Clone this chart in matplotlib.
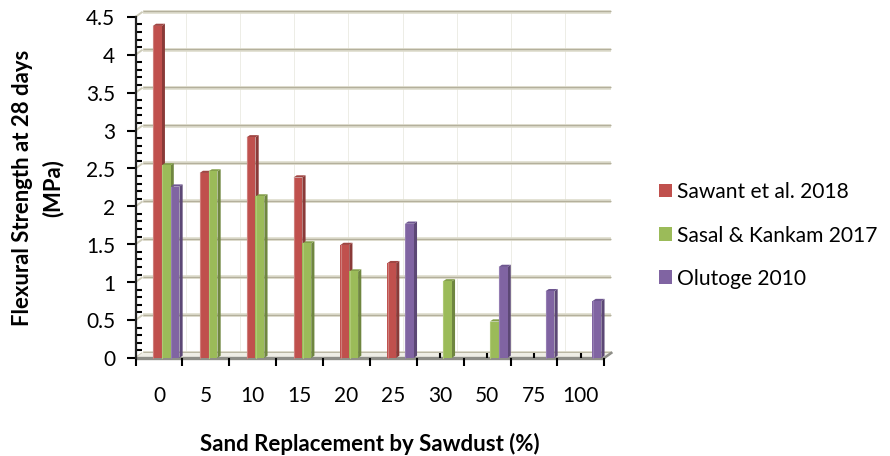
import matplotlib
matplotlib.use("Agg")
import matplotlib.pyplot as plt
from matplotlib.patches import Polygon, Patch
from matplotlib.ticker import FixedLocator, MultipleLocator
import numpy as np

plt.rcParams['font.family'] = ['Lato', 'DejaVu Sans']

categories = ['0', '5', '10', '15', '20', '25', '30', '50', '75', '100']
sawant = [4.38, 2.44, 2.91, 2.38, 1.49, 1.25, None, None, None, None]
sasal = [2.54, 2.46, 2.13, 1.51, 1.14, None, 1.01, 0.48, None, None]
olutoge = [2.26, None, None, None, None, 1.77, None, 1.20, 0.88, 0.75]
series_names = ['Sawant et al. 2018', 'Sasal & Kankam 2017', 'Olutoge 2010']
y_labels = ['0', '0.5', '1', '1.5', '2', '2.5', '3', '3.5', '4', '4.5']
front = ['#C0504D', '#9BBB59', '#8064A2']
side = ['#8A3A38', '#6F8640', '#5C4875']
top = ['#A04643', '#85A04C', '#6E5690']
highlight = ['#CE7F7C', '#AEC975', '#947DB3']

W, H = 890, 456
x0, x1, y0, y1 = 135.5, 604.0, 358.0, 17.3
fig = plt.figure(figsize=((W + 0.5) / 100, (H + 0.5) / 100), dpi=100)
ax = fig.add_axes([x0 / W, 1 - y0 / H, (x1 - x0) / W, (y0 - y1) / H])
ax.set_xlim(-0.5, 9.5)
ax.set_ylim(0, 4.5)
ax.patch.set_alpha(0)

px = (x1 - x0) / 10          # pixels per category
py = (y0 - y1) / 4.5         # pixels per value unit
wall_dx, wall_dy = 7 / px, 5 / py
depth_dx, depth_dy = 3.2 / px, 2.2 / py

# back wall: faint verticals, horizontal gridlines and their diagonal links
for k in range(8):
    e = -0.5 + (185.7 + 54.2 * k - x0) / px
    ax.plot([e, e], [wall_dy, 4.5 + wall_dy], color='#EDEDE6', lw=0.7, clip_on=False, zorder=1)
for v in np.arange(0, 4.51, 0.5):
    ax.plot([-0.5, -0.5 + wall_dx], [v, v + wall_dy], color='#CFCDBB', lw=1.4,
            clip_on=False, zorder=1, solid_capstyle='butt')
    ax.plot([-0.5 + wall_dx, 9.5 + wall_dx], [v + wall_dy] * 2, color='#DDDBCB', lw=2.6,
            clip_on=False, zorder=1, solid_capstyle='butt')
    ax.plot([-0.5 + wall_dx, 9.5 + wall_dx], [v + wall_dy + 0.4 / py] * 2, color='#B4B09C', lw=0.9,
            clip_on=False, zorder=1, solid_capstyle='butt')

# floor
ax.add_patch(Polygon([(-0.5, 0), (9.5, 0), (9.5 + wall_dx, wall_dy), (-0.5 + wall_dx, wall_dy)],
                     closed=True, fc='#EFEEE6', ec='none', clip_on=False, zorder=1.2))
ax.plot([-0.5, 9.5], [0, 0], color='#8E8E88', lw=2.4, clip_on=False, zorder=1.5, solid_capstyle='butt')
ax.plot([9.5, 9.5 + wall_dx], [0, wall_dy], color='#8E8E88', lw=1.8, clip_on=False, zorder=1.5)

# bars
slot = 8.85 / px
start = (17.3 / px) - 0.5
for s, vals in enumerate([sawant, sasal, olutoge]):
    for i, v in enumerate(vals):
        if v is None:
            continue
        left = i + start + s * slot
        right = left + slot
        z = 3 + i * 0.1 + s * 0.02
        ax.add_patch(Polygon([(right, 0), (right + depth_dx, depth_dy),
                              (right + depth_dx, v + depth_dy), (right, v)],
                             closed=True, fc=side[s], ec='none', clip_on=False, zorder=z))
        ax.add_patch(Polygon([(left, v), (left + depth_dx, v + depth_dy),
                              (right + depth_dx, v + depth_dy), (right, v)],
                             closed=True, fc=top[s], ec='none', clip_on=False, zorder=z))
        ax.bar(left, v, width=slot, align='edge', color=front[s], zorder=z + 0.001, clip_on=False)
        ax.plot([left + 0.4 / px] * 2, [0, v], color=highlight[s], lw=0.8, zorder=z + 0.002, clip_on=False)

# axes
for sp in ['top', 'right', 'bottom']:
    ax.spines[sp].set_visible(False)
ax.spines['left'].set_color('#222222')
ax.spines['left'].set_linewidth(1.6)
ax.spines['left'].set_zorder(6)
ax.set_yticks(np.arange(0, 4.51, 0.5))
ax.set_yticklabels(y_labels)
ax.yaxis.set_minor_locator(MultipleLocator(0.1))
ax.tick_params(axis='y', which='major', direction='out', length=6.2, width=1.5, color='black',
               labelsize=15, pad=8.5, labelcolor='black')
ax.tick_params(axis='y', which='minor', direction='in', length=4.4, width=1.5, color='black')
edges = np.arange(-0.5, 9.51, 1)
centers = np.arange(10)
ax.xaxis.set_major_locator(FixedLocator(edges))
ax.xaxis.set_minor_locator(FixedLocator(centers))
ax.set_xticklabels([''] * len(edges))
ax.set_xticklabels(categories, minor=True)
ax.tick_params(axis='x', which='major', direction='out', length=5.8, width=1.5, color='black')
ax.tick_params(axis='x', which='minor', direction='in', length=3.8, width=1.5, color='black',
               labelsize=15, pad=19.7, labelcolor='black')
for t in ax.xaxis.get_minor_ticks() + ax.xaxis.get_major_ticks() + ax.yaxis.get_minor_ticks():
    t.set_zorder(8)

fig.text(369.5 / W, 1 - 443 / H, 'Sand Replacement by Sawdust (%)', fontsize=16, fontweight='bold',
         ha='center', va='center')
fig.text(37.5 / W, 1 - 187.5 / H, 'Flexural Strength at 28 days\n(MPa)', fontsize=15.9, fontweight='bold',
         ha='center', va='center', rotation=90, multialignment='center', linespacing=1.5)

handles = [Patch(fc=front[i], ec='none', label=series_names[i]) for i in range(3)]
fig.legend(handles=handles, loc='center left', bbox_to_anchor=(659 / W, 1 - 235.5 / H), frameon=False,
           fontsize=15.15, handlelength=0.62, handleheight=0.62, handletextpad=0.24, labelspacing=1.11,
           borderpad=0, borderaxespad=0)

fig.savefig('out.png', dpi=100)
